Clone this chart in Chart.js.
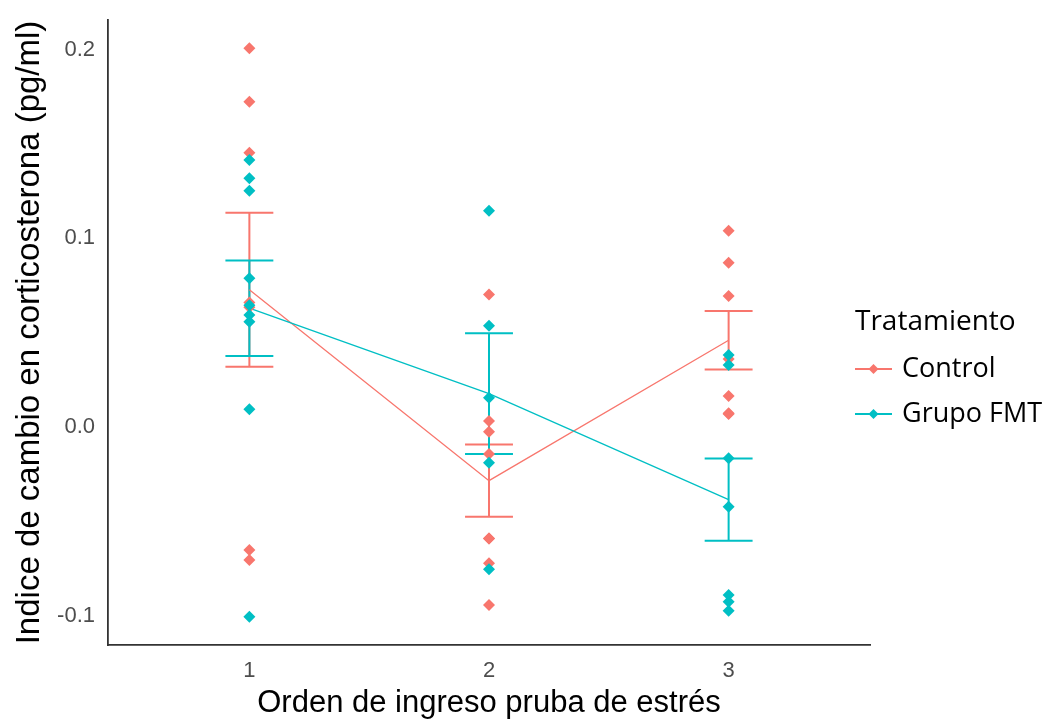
<!DOCTYPE html>
<html>
<head>
<meta charset="utf-8">
<script src="https://cdn.jsdelivr.net/npm/chart.js@4.4.1/dist/chart.umd.min.js"></script>
<style>
  html, body { margin: 0; padding: 0; background: #ffffff; }
  #wrap { width: 1047px; height: 719px; position: relative; }
</style>
</head>
<body>
<div id="wrap"><canvas id="chart"></canvas></div>
<script>
// Stress-test entry order (x categories)
const categories = [1, 2, 3];
const seriesNames = ['Control', 'Grupo FMT'];
const seriesColors = ['#F8766D', '#00BFC4'];
const yTicks = [-0.1, 0.0, 0.1, 0.2];

// Individual corticosterone change values, Control
const control1 = [0.2007, 0.1724, 0.1454, 0.0660, 0.0635, -0.0652, -0.0705];
const control2 = [0.0703, 0.0032, -0.0025, -0.0143, -0.0590, -0.0590, -0.0722, -0.0943];
const control3 = [0.1040, 0.0871, 0.0694, 0.0360, 0.0164, 0.0073, 0.0069];

// Individual corticosterone change values, Grupo FMT
const fmt1 = [0.1415, 0.1318, 0.1252, 0.0788, 0.0646, 0.0594, 0.0558, 0.0094, -0.1005];
const fmt2 = [0.1146, 0.0537, 0.0155, -0.0189, -0.0754];
const fmt3 = [0.0382, 0.0329, -0.0166, -0.0422, -0.0890, -0.0926, -0.0973];

// Group means and standard errors
const controlMeans = [0.0728, -0.0284, 0.0460];
const controlSE = [0.0408, 0.0192, 0.0155];
const fmtMeans = [0.0630, 0.0177, -0.0385];
const fmtSE = [0.0253, 0.0320, 0.0218];

const controlGroups = [control1, control2, control3];
const fmtGroups = [fmt1, fmt2, fmt3];

const toPoints = groups => groups.flatMap((vals, i) => vals.map(v => ({ x: categories[i], y: v })));
const toLine = means => means.map((m, i) => ({ x: categories[i], y: m }));

const TICK_FONT = { family: '"Liberation Sans", Arial, sans-serif', size: 22 };
const LEGEND_FAMILY = '"Open Sans", "Noto Sans", sans-serif';

// Mean ± SE whiskers, drawn beneath the datasets
const errorBarPlugin = {
  id: 'errorBars',
  beforeDatasetsDraw(chart) {
    const { ctx, scales: { x, y } } = chart;
    const capHalf = 0.1;
    ctx.save();
    ctx.lineWidth = 2;
    ctx.lineCap = 'butt';
    [[controlMeans, controlSE, seriesColors[0]], [fmtMeans, fmtSE, seriesColors[1]]].forEach(([means, se, col]) => {
      ctx.strokeStyle = col;
      categories.forEach((c, i) => {
        const xc = x.getPixelForValue(c);
        const xl = x.getPixelForValue(c - capHalf);
        const xr = x.getPixelForValue(c + capHalf);
        const yt = y.getPixelForValue(means[i] + se[i]);
        const yb = y.getPixelForValue(means[i] - se[i]);
        ctx.beginPath();
        ctx.moveTo(xl, yt); ctx.lineTo(xr, yt);
        ctx.moveTo(xc, yt); ctx.lineTo(xc, yb);
        ctx.moveTo(xl, yb); ctx.lineTo(xr, yb);
        ctx.stroke();
      });
    });
    ctx.restore();
  }
};

// Legend block on the right: title plus line-and-diamond keys
const legendPlugin = {
  id: 'sideLegend',
  afterDraw(chart) {
    const { ctx } = chart;
    const left = 855;
    ctx.save();
    ctx.fillStyle = '#000000';
    ctx.textBaseline = 'middle';
    ctx.textAlign = 'left';
    ctx.font = '28px ' + LEGEND_FAMILY;
    ctx.fillText('Tratamiento', left, 322);
    const rows = [369, 414];
    seriesNames.forEach((name, i) => {
      const yy = rows[i];
      ctx.strokeStyle = seriesColors[i];
      ctx.lineWidth = 1.8;
      ctx.beginPath();
      ctx.moveTo(left, yy); ctx.lineTo(left + 37, yy);
      ctx.stroke();
      ctx.fillStyle = seriesColors[i];
      const cx = left + 18.5, r = 5;
      ctx.beginPath();
      ctx.moveTo(cx, yy - r); ctx.lineTo(cx + r, yy); ctx.lineTo(cx, yy + r); ctx.lineTo(cx - r, yy);
      ctx.closePath();
      ctx.fill();
      ctx.fillStyle = '#000000';
      ctx.font = '27px ' + LEGEND_FAMILY;
      ctx.fillText(name, left + 47, yy);
    });
    ctx.restore();
  }
};

const pointStyleOpts = { pointStyle: 'rectRot', pointRadius: 6, pointHoverRadius: 6, borderWidth: 0 };

// Keep the plot frame fixed: no extra label overflow padding
const noPad = s => { s.paddingTop = 0; s.paddingBottom = 0; s.paddingLeft = 0; s.paddingRight = 0; };

new Chart(document.getElementById('chart'), {
  type: 'scatter',
  data: {
    datasets: [
      { label: seriesNames[1], data: toPoints(fmtGroups), backgroundColor: seriesColors[1], order: 0, ...pointStyleOpts },
      { label: seriesNames[0], data: toPoints(controlGroups), backgroundColor: seriesColors[0], order: 1, ...pointStyleOpts },
      { type: 'line', label: seriesNames[1] + ' media', data: toLine(fmtMeans), borderColor: seriesColors[1], borderWidth: 1.3, pointRadius: 0, fill: false, tension: 0, order: 2 },
      { type: 'line', label: seriesNames[0] + ' media', data: toLine(controlMeans), borderColor: seriesColors[0], borderWidth: 1.3, pointRadius: 0, fill: false, tension: 0, order: 3 }
    ]
  },
  options: {
    responsive: true,
    maintainAspectRatio: false,
    animation: false,
    layout: { padding: { top: 20, right: 177, left: 0, bottom: 0 } },
    plugins: { legend: { display: false }, tooltip: { enabled: false } },
    scales: {
      x: {
        type: 'linear',
        min: 0.41,
        max: 3.59,
        afterBuildTicks: s => { s.ticks = categories.map(v => ({ value: v })); },
        afterFit: s => { s.height = 74; noPad(s); },
        grid: { display: false, drawTicks: false, tickLength: 0 },
        border: { display: true, color: '#333333', width: 1.8 },
        ticks: { font: TICK_FONT, color: '#4D4D4D', padding: 13, callback: v => String(v) },
        title: { display: true, text: 'Orden de ingreso pruba de estrés', color: '#000000',
                 font: { family: '"Liberation Sans", Arial, sans-serif', size: 31, lineHeight: 1 }, padding: { top: 0, bottom: 0 } }
      },
      y: {
        type: 'linear',
        min: -0.1155,
        max: 0.2157,
        afterBuildTicks: s => { s.ticks = yTicks.map(v => ({ value: v })); },
        afterFit: s => { s.width = 108; noPad(s); },
        grid: { display: false, drawTicks: false, tickLength: 0 },
        border: { display: true, color: '#333333', width: 1.8 },
        ticks: { font: TICK_FONT, color: '#4D4D4D', padding: 13, callback: v => v.toFixed(1) },
        title: { display: true, text: 'Indice de cambio en corticosterona (pg/ml)', color: '#000000',
                 font: { family: '"Liberation Sans", Arial, sans-serif', size: 33, lineHeight: 1 }, padding: { top: 13, bottom: 0 } }
      }
    }
  },
  plugins: [errorBarPlugin, legendPlugin]
});
</script>
</body>
</html>
